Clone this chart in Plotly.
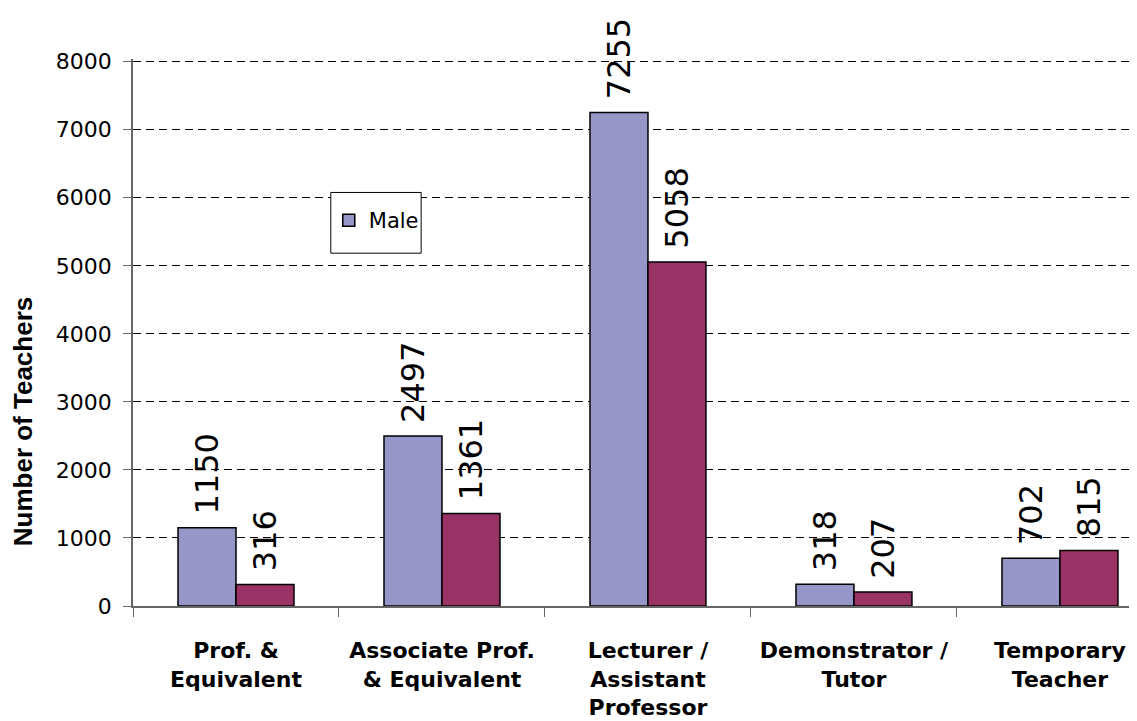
# Teachers by post and gender, grouped bars with Plotly
import plotly.graph_objects as go

# ==== Data ====
categories = [
    "Prof. &<br>Equivalent",
    "Associate Prof.<br>& Equivalent",
    "Lecturer /<br>Assistant<br>Professor",
    "Demonstrator /<br>Tutor",
    "Temporary<br>Teacher",
]
male = [1150, 2497, 7255, 318, 702]
female = [316, 1361, 5058, 207, 815]

# ==== Styling ====
male_color = "#9696C8"
female_color = "#993366"
label_font = dict(family="DejaVu Sans", size=32, color="black")

fig = go.Figure()

for name, vals, col, show in [("Male", male, male_color, True),
                              ("Female", female, female_color, False)]:
    fig.add_trace(go.Bar(
        x=categories, y=vals, name=name, showlegend=show,
        marker=dict(color=col, line=dict(color="black", width=1.5)),
        text=vals, texttemplate="\u00a0%{y}",
        textposition="outside", textangle=-90,
        textfont=label_font, constraintext="none", cliponaxis=False,
    ))

# legend frame (taller than the entry, as in the original)
fig.add_shape(type="rect", xref="paper", yref="paper",
              x0=0.197, x1=0.287, y0=0.645, y1=0.756,
              fillcolor="white", line=dict(color="black", width=1),
              layer="above")

# y title sits lower than the plot centre in the original
fig.add_annotation(text="<b>Number of Teachers</b>", textangle=-90,
                   xref="paper", yref="paper", x=-0.11, y=0.337,
                   xanchor="center", yanchor="middle", showarrow=False,
                   font=dict(family="Liberation Sans", size=26, color="black"))

fig.update_layout(
    width=1129, height=713,
    margin=dict(l=125, r=0, t=51, b=115),
    barmode="group", bargap=0.437, bargroupgap=0,
    plot_bgcolor="white", paper_bgcolor="white",
    font=dict(family="DejaVu Sans", color="black"),
    showlegend=True,
    legend=dict(x=0.195, y=0.742, xanchor="left", yanchor="top",
                bgcolor="rgba(0,0,0,0)", borderwidth=0,
                font=dict(family="DejaVu Sans", size=21)),
    xaxis=dict(
        range=[-0.5, 4.374], showline=True, linecolor="#666", linewidth=1.5,
        ticks="outside", tickson="boundaries", ticklen=9, tickcolor="#666",
        ticklabelstandoff=24,
        tickfont=dict(family="DejaVu Sans", size=22, weight="bold"),
        showgrid=False,
    ),
    yaxis=dict(
        range=[0, 8040], dtick=1000, showline=True, linecolor="#666",
        linewidth=1.5, ticks="outside", ticklen=8, tickcolor="#666",
        ticklabelstandoff=7, zeroline=False,
        showgrid=True, gridcolor="black", gridwidth=1, griddash="8px,5px",
        tickfont=dict(family="DejaVu Sans", size=22),
    ),
)

fig.write_html("out.html")
